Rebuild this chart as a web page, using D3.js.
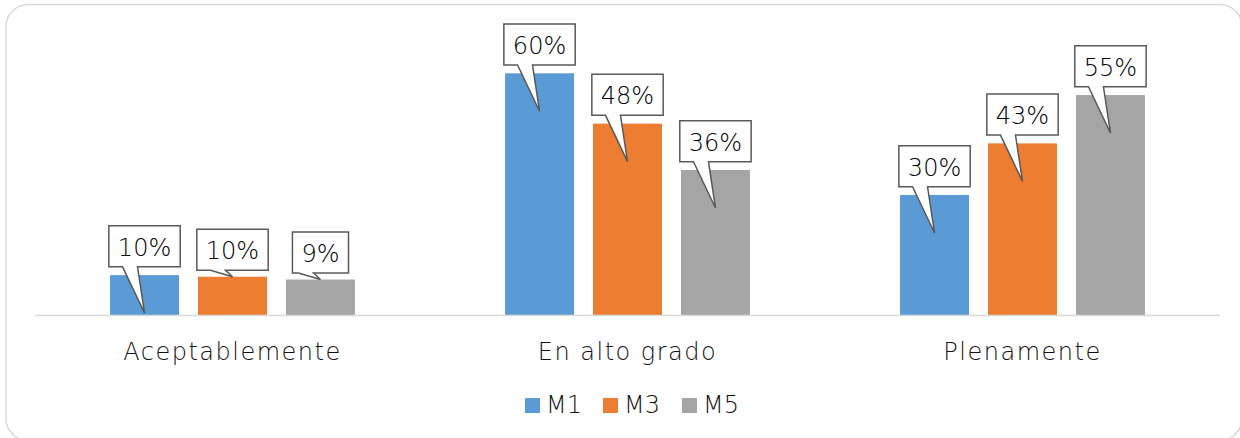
<!DOCTYPE html>
<html>
<head>
<meta charset="utf-8">
<script src="https://cdn.jsdelivr.net/npm/d3@7"></script>
<style>
	body { margin: 0; background: #fff; }
	#chart { width: 1240px; height: 438px; overflow: hidden; }
</style>
</head>
<body>
<div id="chart"></div>
<script>
var categories = ['Aceptablemente', 'En alto grado', 'Plenamente'];
var seriesNames = ['M1', 'M3', 'M5'];
var m1 = [0.099, 0.60, 0.298];
var m3 = [0.095, 0.475, 0.426];
var m5 = [0.088, 0.36, 0.546];
var colors = ['#5b9bd5', '#ed7d31', '#a5a5a5'];

var W = 1240, H = 438;
var font = '"DejaVu Sans", sans-serif';

var svg = d3.select('#chart')
	.append('svg')
	.attr('width', W)
	.attr('height', H);

// outer frame
svg.append('rect')
	.attr('x', 6).attr('y', 4.5)
	.attr('width', 1236).attr('height', 436)
	.attr('rx', 22)
	.style('fill', '#fff')
	.style('stroke', '#d9d9d9')
	.style('stroke-width', 1.5);

var x0 = d3.scaleBand().domain(categories).range([35, 1220]);
var x1 = d3.scaleBand().domain(seriesNames)
	.range([x0.bandwidth() * 0.19, x0.bandwidth() * 0.81])
	.paddingInner(0.216);
var y = d3.scaleLinear().domain([0, 0.7]).range([315, 33]);

var allSeries = [m1, m3, m5];
var data = [];
categories.forEach(function(c, i) {
	seriesNames.forEach(function(s, j) {
		data.push({ cat: c, s: s, i: j, v: allSeries[j][i] });
	});
});

svg.selectAll('.bar').data(data).enter().append('rect')
	.attr('class', 'bar')
	.attr('x', function(d) { return x0(d.cat) + x1(d.s); })
	.attr('y', function(d) { return y(d.v); })
	.attr('width', x1.bandwidth())
	.attr('height', function(d) { return y(0) - y(d.v); })
	.style('fill', function(d) { return colors[d.i]; });

// axis line
svg.append('line')
	.attr('x1', 35).attr('x2', 1220)
	.attr('y1', y(0) + 0.5).attr('y2', y(0) + 0.5)
	.style('stroke', '#d9d9d9')
	.style('stroke-width', 1.5);

// category labels
svg.selectAll('.cat').data(categories).enter().append('text')
	.attr('class', 'cat')
	.attr('x', function(d) { return x0(d) + x0.bandwidth() / 2; })
	.attr('y', 360)
	.attr('text-anchor', 'middle')
	.style('font-family', font)
	.style('font-weight', 200)
	.style('font-size', '24px')
	.style('letter-spacing', '1.5px')
	.style('fill', '#111')
	.text(function(d) { return d; });

// callout labels
var shortTip = { 'Aceptablemente-M3': true, 'Aceptablemente-M5': true };
var fmt = d3.format('.0%');

var callouts = svg.selectAll('.callout').data(data).enter().append('g')
	.attr('class', 'callout');

callouts.each(function(d) {
	var g = d3.select(this);
	var cx = x0(d.cat) + x1(d.s) + x1.bandwidth() / 2;
	var top = y(d.v);
	var short = shortTip[d.cat + '-' + d.s];
	var bottom = top - (short ? 6.5 : 8.3);
	var tipY = short ? top : top + 38;
	var t = g.append('text')
		.attr('x', cx)
		.attr('y', bottom - 11)
		.attr('text-anchor', 'middle')
		.style('font-family', font)
		.style('font-weight', 200)
		.style('font-size', '24px')
		.style('fill', '#000')
		.text(fmt(d.v));
	var tw = t.node().getComputedTextLength();
	var bw = tw + 18, bh = 41;
	var l = cx - bw / 2, r = cx + bw / 2, tp = bottom - bh;
	var path = d3.path();
	path.moveTo(l, tp);
	path.lineTo(r, tp);
	path.lineTo(r, bottom);
	path.lineTo(cx - 7, bottom);
	path.lineTo(cx, tipY);
	path.lineTo(cx - 22, bottom);
	path.lineTo(l, bottom);
	path.closePath();
	g.insert('path', 'text')
		.attr('d', path.toString())
		.style('fill', '#fff')
		.style('stroke', '#595959')
		.style('stroke-width', 1.5)
		.style('stroke-linejoin', 'miter');
});

// legend
var legendX = [525, 603, 682];
var legend = svg.selectAll('.legend').data(seriesNames).enter().append('g')
	.attr('class', 'legend')
	.attr('transform', function(d, i) { return 'translate(' + legendX[i] + ',398)'; });
legend.append('rect')
	.attr('width', 15).attr('height', 15)
	.style('fill', function(d, i) { return colors[i]; });
legend.append('text')
	.attr('x', 21).attr('y', 15)
	.style('font-family', font)
	.style('font-weight', 200)
	.style('font-size', '24px')
	.style('fill', '#111')
	.text(function(d) { return d; });
</script>
</body>
</html>
